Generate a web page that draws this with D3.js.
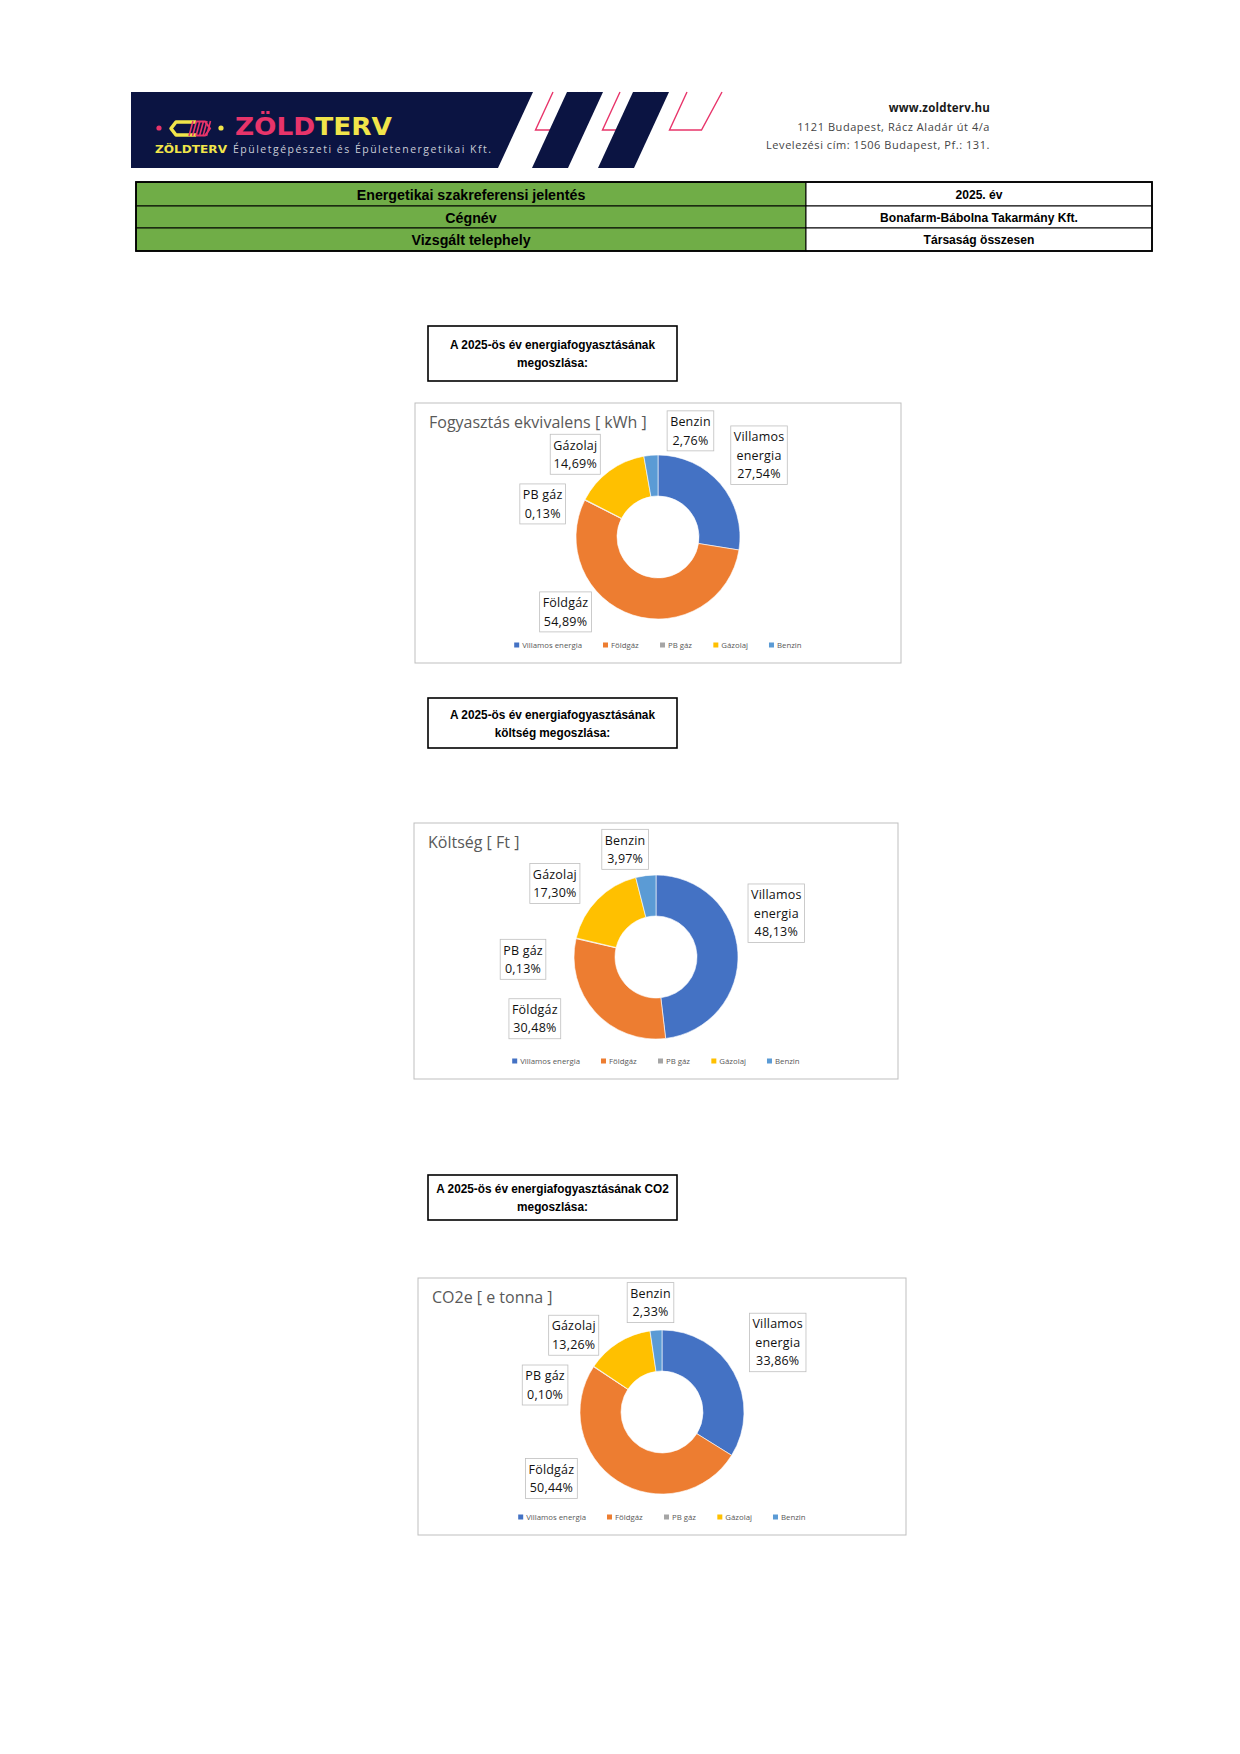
<!DOCTYPE html>
<html lang="hu">
<head>
<meta charset="utf-8">
<title>Energetikai szakreferensi jelentés</title>
<script src="https://d3js.org/d3.v7.min.js"></script>
<style>
  body { margin: 0; background: #fff; }
  svg { display: block; }
  .narrow { font-family: "Liberation Sans", Arial, sans-serif; font-weight: bold; }
  .lbl { font-family: "Open Sans", "Noto Sans", sans-serif; }
</style>
</head>
<body>
<svg id="page" width="1240" height="1754"></svg>
<script>
// categories and colours (Office palette)
var categories = ["Villamos energia", "Földgáz", "PB gáz", "Gázolaj", "Benzin"]
var colors = ["#4472C4", "#ED7D31", "#A5A5A5", "#FFC000", "#5B9BD5"]

// shares in percent
var kwhShare = [27.54, 54.89, 0.13, 14.69, 2.76]
var costShare = [48.13, 30.48, 0.13, 17.30, 3.97]
var co2Share = [33.86, 50.44, 0.10, 13.26, 2.33]

var chartTitles = ["Fogyasztás ekvivalens [ kWh ]", "Költség [ Ft ]", "CO2e [ e tonna ]"]
var headings = [
  ["A 2025-ös év energiafogyasztásának", "megoszlása:"],
  ["A 2025-ös év energiafogyasztásának", "költség megoszlása:"],
  ["A 2025-ös év energiafogyasztásának CO2", "megoszlása:"]
]

var tableLeft = ["Energetikai szakreferensi jelentés", "Cégnév", "Vizsgált telephely"]
var tableRight = ["2025. év", "Bonafarm-Bábolna Takarmány Kft.", "Társaság összesen"]

var address = ["www.zoldterv.hu", "1121 Budapest, Rácz Aladár út 4/a", "Levelezési cím: 1506 Budapest, Pf.: 131."]

// layout of the three blocks (heading box + chart box)
var blocks = [
  {head: [326, 55], box: [415, 403, 486, 260], labelAng: [51, 231, 286, 315, 17], labelRad: [130, 119, 120, 117, 111]},
  {head: [698, 50], box: [414, 823, 484, 256], labelAng: [70, 243, 269, 306, 344], labelRad: [128, 136, 133, 125, 112]},
  {head: [1175, 45], box: [418, 1278, 488, 257], labelAng: [59, 239, 283, 311, 354], labelRad: [135, 129, 120, 117, 110]}
]
var series = [kwhShare, costShare, co2Share]

var svg = d3.select("#page")
var navy = "#0b1442", pink = "#e8346a", yellow = "#f1e54a"

// condensed bold text (no narrow font installed, so squeeze horizontally)
function narrowText(parent, x, y, str, size, sx) {
  return parent.append("g").attr("transform", `translate(${x},${y}) scale(${sx || 0.92},1)`)
    .append("text").attr("class", "narrow").attr("text-anchor", "middle")
    .attr("font-size", size).attr("fill", "#000").text(str)
}

// ---------- header banner ----------
var head = svg.append("g")
var bx0 = 131, bx1 = 533, by0 = 92, by1 = 168, slant = 35
head.append("path").attr("fill", navy)
  .attr("d", `M${bx0},${by0}L${bx1},${by0}L${bx1 - slant},${by1}L${bx0},${by1}Z`)
// pink outlines
;[553, 620, 687].forEach(function(x) {
  var yb = 130, k = (yb - by0) * slant / (by1 - by0)
  head.append("path").attr("fill", "none").attr("stroke", pink).attr("stroke-width", 1.4)
    .attr("d", `M${x},${by0}L${x - k},${yb}L${x - k + 32},${yb}L${x + 35},${by0}`)
})
// dark stripes on top of the outlines
;[567, 633].forEach(function(x) {
  head.append("path").attr("fill", navy)
    .attr("d", `M${x},${by0}L${x + 36},${by0}L${x + 36 - slant},${by1}L${x - slant},${by1}Z`)
})

// logo mark
head.append("circle").attr("cx", 159).attr("cy", 128).attr("r", 2.6).attr("fill", pink)
head.append("path").attr("fill", "none").attr("stroke", yellow).attr("stroke-width", 3.5)
  .attr("stroke-linejoin", "round")
  .attr("d", "M196,122L176,122L171,128.5L176,135L196,135")
for (var i = 0; i < 6; i++) {
  head.append("line").attr("stroke", pink).attr("stroke-width", 1.6)
    .attr("x1", 189 + i * 3.5).attr("y1", 136).attr("x2", 193 + i * 3.5).attr("y2", 121)
}
head.append("path").attr("fill", "none").attr("stroke", pink).attr("stroke-width", 2)
  .attr("d", "M196,121.5L205,121.5L210,128.5L205,135.5L196,135.5")
head.append("circle").attr("cx", 221).attr("cy", 128).attr("r", 2.6).attr("fill", yellow)

var logo = head.append("text").attr("x", 235).attr("y", 135)
  .attr("font-family", "DejaVu Sans, sans-serif").attr("font-weight", "bold").attr("font-size", 24)
  .attr("textLength", 157).attr("lengthAdjust", "spacingAndGlyphs")
logo.append("tspan").attr("fill", pink).text("ZÖLD")
logo.append("tspan").attr("fill", yellow).text("TERV")

head.append("text").attr("x", 155).attr("y", 153)
  .attr("font-family", "DejaVu Sans, sans-serif").attr("font-weight", "bold").attr("font-size", 10.5)
  .attr("fill", yellow).attr("textLength", 72).attr("lengthAdjust", "spacingAndGlyphs").text("ZÖLDTERV")
head.append("text").attr("x", 233).attr("y", 153)
  .attr("font-family", "Open Sans, sans-serif").attr("font-size", 10.5)
  .attr("fill", "#c9ccd6").attr("textLength", 258).attr("lengthAdjust", "spacing")
  .text("Épületgépészeti és Épületenergetikai Kft.")

head.selectAll("text.addr").data(address).join("text").attr("class", "addr")
  .attr("x", 990).attr("y", (d, i) => 112 + i * 18.5)
  .attr("text-anchor", "end")
  .attr("font-family", "Open Sans, sans-serif")
  .attr("font-weight", (d, i) => i == 0 ? "bold" : "normal")
  .attr("font-size", (d, i) => i == 0 ? 11.5 : 11)
  .attr("letter-spacing", (d, i) => i == 0 ? 0.2 : 0.55)
  .attr("fill", (d, i) => i == 0 ? "#1a1a1a" : "#444")
  .text(d => d)

// ---------- info table ----------
var tX0 = 136, tX1 = 806, tX2 = 1152
var rowY = [182, 206, 228, 251]
var tab = svg.append("g")
tableLeft.forEach(function(t, i) {
  tab.append("rect").attr("x", tX0).attr("y", rowY[i]).attr("width", tX1 - tX0)
    .attr("height", rowY[i + 1] - rowY[i]).attr("fill", "#70AD47").attr("stroke", "#000").attr("stroke-width", 1)
  tab.append("rect").attr("x", tX1).attr("y", rowY[i]).attr("width", tX2 - tX1)
    .attr("height", rowY[i + 1] - rowY[i]).attr("fill", "#fff").attr("stroke", "#000").attr("stroke-width", 1)
  var cy = (rowY[i] + rowY[i + 1]) / 2
  narrowText(tab, (tX0 + tX1) / 2, cy + 5.5, t, 15, 0.95)
  narrowText(tab, (tX1 + tX2) / 2, cy + 4.5, tableRight[i], 13, 0.93)
})
tab.append("rect").attr("x", tX0).attr("y", rowY[0]).attr("width", tX2 - tX0)
  .attr("height", rowY[3] - rowY[0]).attr("fill", "none").attr("stroke", "#000").attr("stroke-width", 1.8)

// ---------- doughnut charts ----------
var fmt = d3.format(".2f")
var pie = d3.pie().sort(null).value(d => d)
var outerR = 82, innerR = 41
var arc = d3.arc().innerRadius(innerR).outerRadius(outerR)

blocks.forEach(function(b, ci) {
  var g = svg.append("g")

  // heading box
  var hx = 428, hw = 249
  g.append("rect").attr("x", hx).attr("y", b.head[0]).attr("width", hw).attr("height", b.head[1])
    .attr("fill", "#fff").attr("stroke", "#000").attr("stroke-width", 1.6)
  var hMid = b.head[0] + b.head[1] / 2
  headings[ci].forEach(function(line, k) {
    narrowText(g, hx + hw / 2, hMid + (k - 0.5) * 18 + 4.5, line, 13, 0.91)
  })

  // chart area
  var bx = b.box[0], by = b.box[1], bw = b.box[2], bh = b.box[3]
  g.append("rect").attr("x", bx).attr("y", by).attr("width", bw).attr("height", bh)
    .attr("fill", "#fff").attr("stroke", "#bfbfbf").attr("stroke-width", 1)
  g.append("text").attr("class", "lbl").attr("x", bx + 14).attr("y", by + 25)
    .attr("font-size", 16).attr("fill", "#595959").text(chartTitles[ci])

  var cx = bx + bw / 2, cy = by + 134
  var dg = g.append("g").attr("transform", `translate(${cx},${cy})`)
  var arcs = pie(series[ci])
  dg.selectAll("path").data(arcs).join("path")
    .attr("d", arc).attr("fill", (d, i) => colors[i])
    .attr("stroke", "#fff").attr("stroke-width", 0.6)

  // data labels
  arcs.forEach(function(a, i) {
    var ang = b.labelAng[i] * Math.PI / 180, r = b.labelRad[i]
    var lx = Math.sin(ang) * r, ly = -Math.cos(ang) * r
    var name = categories[i]
    var lines = (name.length > 10 ? name.split(" ") : [name]).concat([fmt(a.data).replace(".", ",") + "%"])
    var lg = dg.append("g").attr("transform", `translate(${lx},${ly})`)
    var lh = 18.5
    var rect = lg.append("rect").attr("fill", "#fff").attr("stroke", "#bfbfbf").attr("stroke-width", 0.8)
    var txt = lg.append("text").attr("class", "lbl").attr("font-size", 12.5).attr("fill", "#111")
      .attr("text-anchor", "middle").attr("letter-spacing", 0.2)
    lines.forEach(function(l, k) {
      txt.append("tspan").attr("x", 0).attr("y", (k - (lines.length - 1) / 2) * lh + 4.5).text(l)
    })
    var bb = txt.node().getBBox()
    var w = bb.width + 6, h = lines.length * lh + 3
    rect.attr("x", -w / 2).attr("y", -h / 2).attr("width", w).attr("height", h)
  })

  // legend, centred under the chart
  var leg = g.append("g").attr("transform", `translate(0,${by + bh - 15})`)
  var items = leg.selectAll("g").data(categories).join("g")
  items.append("rect").attr("width", 5).attr("height", 5).attr("y", -5.5).attr("fill", (d, i) => colors[i])
  items.append("text").attr("class", "lbl").attr("x", 8).attr("y", 0)
    .attr("font-size", 7.8).attr("fill", "#595959").text(d => d)
  var xs = [], acc = 0
  items.each(function() {
    xs.push(acc)
    acc += this.getBBox().width + 21
  })
  var total = acc - 21
  items.attr("transform", (d, i) => `translate(${cx - total / 2 + xs[i]},0)`)
})
</script>
</body>
</html>
